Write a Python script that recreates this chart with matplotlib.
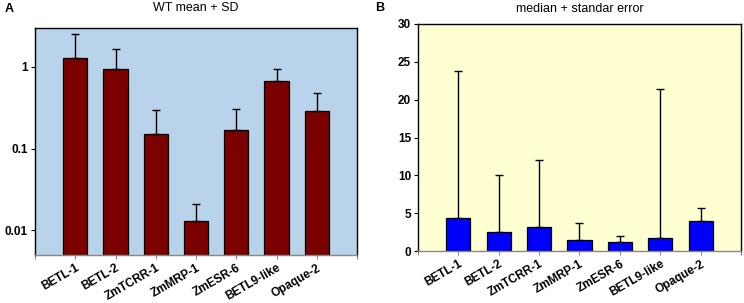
import matplotlib.pyplot as plt
import numpy as np
from matplotlib.ticker import FixedLocator, NullLocator

genes = ['BETL-1', 'BETL-2', 'ZmTCRR-1', 'ZmMRP-1', 'ZmESR-6', 'BETL9-like', 'Opaque-2']

# panel A: WT mean and mean + SD (log scale)
wt_mean = [1.29, 0.94, 0.152, 0.013, 0.169, 0.675, 0.29]
wt_top = [2.53, 1.64, 0.30, 0.0208, 0.31, 0.94, 0.486]

# panel B: median and median + standard error
med = [4.42, 2.52, 3.23, 1.46, 1.2, 1.72, 3.93]
med_top = [23.85, 10.0, 12.0, 3.7, 2.0, 21.4, 5.7]

plt.rcParams['font.family'] = ['Liberation Sans', 'DejaVu Sans']
FS = 8.5

fig = plt.figure(figsize=(7.44, 3.03), dpi=100)
W, H = 744, 303


def add_ax(x0, y0, x1, y1):
    return fig.add_axes([x0 / W, 1 - y1 / H, (x1 - x0) / W, (y1 - y0) / H])


def style(ax, bg):
    ax.set_facecolor(bg)
    for s in ax.spines.values():
        s.set_linewidth(1.0)
        s.set_color('black')
    ax.spines['bottom'].set_color('#888888')
    ax.set_xlim(0, 8)
    x = np.arange(1, 8)
    ax.set_xticks(list(range(0, 9)))
    ax.set_xticklabels([''] + genes + [''], rotation=30, ha='right',
                       rotation_mode='anchor', fontsize=FS, fontweight='bold')
    ax.tick_params(axis='x', length=3, color='#888888', pad=2)
    ax.tick_params(axis='y', length=3, labelsize=FS, pad=2)
    return x


# ---- panel A
axA = add_ax(35, 28, 357, 255)
x = style(axA, '#b9d3ea')
yerrA = np.array(wt_top) - np.array(wt_mean)
axA.bar(x, wt_mean, width=0.6, color='#7b0000', edgecolor='black', linewidth=0.9,
        yerr=[np.zeros(7), yerrA], error_kw=dict(ecolor='black', elinewidth=1.0, capsize=3, capthick=1.0))
axA.set_yscale('log')
axA.set_ylim(0.005, 3)
axA.yaxis.set_major_locator(FixedLocator([0.01, 0.1, 1]))
axA.yaxis.set_minor_locator(NullLocator())
axA.set_yticklabels(['0.01', '0.1', '1'], fontweight='bold', fontsize=FS)
axA.set_title('WT mean + SD', fontsize=9, pad=12)
fig.text(5 / W, 1 - 9 / H, 'A', fontsize=9, fontweight='bold', va='center')

# ---- panel B
axB = add_ax(418, 24, 741, 251)
x = style(axB, '#ffffd2')
yerrB = np.array(med_top) - np.array(med)
axB.bar(x, med, width=0.6, color='#0000ff', edgecolor='black', linewidth=0.9,
        yerr=[np.zeros(7), yerrB], error_kw=dict(ecolor='black', elinewidth=1.0, capsize=3, capthick=1.0))
axB.set_ylim(0, 30)
axB.set_yticks([0, 5, 10, 15, 20, 25, 30])
axB.set_yticklabels(['0', '5', '10', '15', '20', '25', '30'], fontweight='bold', fontsize=FS)
axB.set_title('median + standar error', fontsize=9, pad=9)
fig.text(375 / W, 1 - 8 / H, 'B', fontsize=9, fontweight='bold', va='center')

fig.savefig('out.png', dpi=100)
